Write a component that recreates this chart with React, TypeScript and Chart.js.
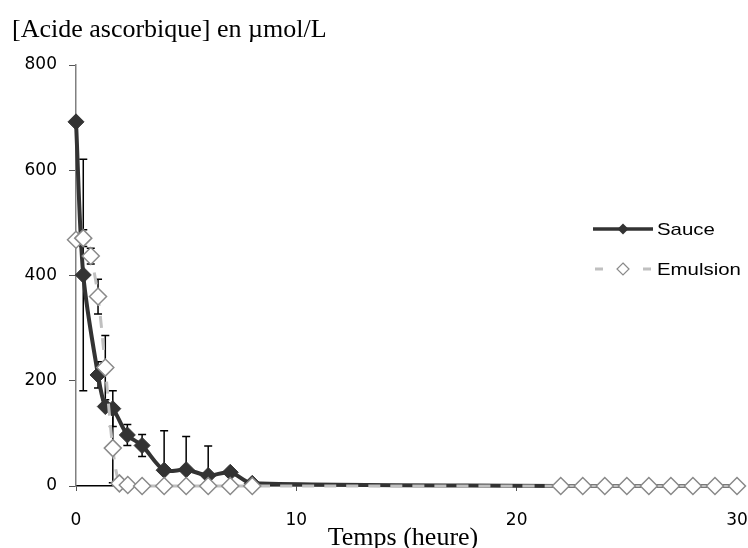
import React, { useEffect, useRef } from "react";
import { Chart, registerables } from "chart.js";

Chart.register(...registerables);

// ---- Data ----
const sauceTime = [0, 0.33, 1, 1.33, 1.67, 2.33, 3, 4, 5, 6, 7, 8, 22, 23, 24, 25, 26, 27, 28, 29, 30];
const sauceValue = [692, 401, 211, 151, 147, 97, 77, 30, 31, 20, 26, 5, 0, 0, 0, 0, 0, 0, 0, 0, 0];
const sauceError = [0, 220, 25, 0, 34, 20, 21, 75, 63, 56, 0, 0, 0, 0, 0, 0, 0, 0, 0, 0, 0];

const emulsionTime = [0, 0.33, 0.67, 1, 1.33, 1.67, 1.97, 2.35, 3, 4, 5, 6, 7, 8, 22, 23, 24, 25, 26, 27, 28, 29, 30];
const emulsionValue = [468, 471, 437, 360, 225, 72, 5, 2, 0, 0, 0, 0, 0, 0, 0, 0, 0, 0, 0, 0, 0, 0, 0];
const emulsionError = [0, 16, 15, 33, 61, 66, 0, 0, 0, 0, 0, 0, 0, 0, 0, 0, 0, 0, 0, 0, 0, 0, 0];

const xTickValues = [0, 10, 20, 30];
const yTickValues = [0, 200, 400, 600, 800];

const seriesNames = ["Sauce", "Emulsion"];
const yTitle = "[Acide ascorbique] en µmol/L";
const xTitle = "Temps (heure)";

const SAUCE_COLOR = "#333333";
const EMULSION_LINE = "#c0c0c0";
const EMULSION_MARK = "#8a8a8a";

const errorBarPlugin = {
  id: "errorBars",
  beforeDatasetsDraw(chart: any) {
    const { ctx, chartArea, scales } = chart;
    const x = scales.x;
    const y = scales.y;
    ctx.save();
    ctx.beginPath();
    ctx.rect(chartArea.left - 10, chartArea.top - 10, chartArea.right - chartArea.left + 20, chartArea.bottom - chartArea.top + 10);
    ctx.clip();
    ctx.strokeStyle = "#000";
    ctx.lineWidth = 1.5;
    const sets = [
      { t: sauceTime, v: sauceValue, e: sauceError },
      { t: emulsionTime, v: emulsionValue, e: emulsionError },
    ];
    sets.forEach((s) => {
      s.t.forEach((t, i) => {
        const e = s.e[i];
        if (!e) return;
        const px = x.getPixelForValue(t);
        const top = y.getPixelForValue(s.v[i] + e);
        const bot = y.getPixelForValue(s.v[i] - e);
        ctx.beginPath();
        ctx.moveTo(px, top);
        ctx.lineTo(px, bot);
        ctx.moveTo(px - 4, top);
        ctx.lineTo(px + 4, top);
        ctx.moveTo(px - 4, bot);
        ctx.lineTo(px + 4, bot);
        ctx.stroke();
      });
    });
    ctx.restore();
  },
};

function stretchedText(ctx: CanvasRenderingContext2D, text: string, x: number, y: number, sx: number) {
  ctx.save();
  ctx.translate(x, y);
  ctx.scale(sx, 1);
  ctx.fillText(text, 0, 0);
  ctx.restore();
}

function diamond(ctx: CanvasRenderingContext2D, cx: number, cy: number, r: number) {
  ctx.beginPath();
  ctx.moveTo(cx, cy - r);
  ctx.lineTo(cx + r, cy);
  ctx.lineTo(cx, cy + r);
  ctx.lineTo(cx - r, cy);
  ctx.closePath();
}

const decorPlugin = {
  id: "decor",
  afterDraw(chart: any) {
    const ctx: CanvasRenderingContext2D = chart.ctx;
    ctx.save();
    ctx.fillStyle = "#000";
    ctx.textBaseline = "alphabetic";
    ctx.font = '26px "Liberation Serif", "Times New Roman", serif';
    ctx.textAlign = "left";
    ctx.fillText(yTitle, 12, 37);
    ctx.textAlign = "center";
    ctx.fillText(xTitle, 403, 545);

    // legend
    const lx0 = 593;
    const lx1 = 653;
    const y1 = 229;
    const y2 = 269;
    ctx.lineWidth = 3.5;
    ctx.strokeStyle = SAUCE_COLOR;
    ctx.beginPath();
    ctx.moveTo(lx0, y1);
    ctx.lineTo(lx1, y1);
    ctx.stroke();
    ctx.fillStyle = SAUCE_COLOR;
    diamond(ctx, 623, y1, 5.5);
    ctx.fill();

    ctx.strokeStyle = EMULSION_LINE;
    ctx.lineWidth = 3;
    ctx.beginPath();
    ctx.moveTo(595, y2);
    ctx.lineTo(603, y2);
    ctx.moveTo(643, y2);
    ctx.lineTo(651, y2);
    ctx.stroke();
    ctx.fillStyle = "#fff";
    ctx.strokeStyle = EMULSION_MARK;
    ctx.lineWidth = 1.2;
    diamond(ctx, 623, y2, 6);
    ctx.fill();
    ctx.stroke();

    ctx.fillStyle = "#000";
    ctx.font = '17px "Liberation Sans", Arial, sans-serif';
    ctx.textAlign = "left";
    ctx.textBaseline = "middle";
    stretchedText(ctx, seriesNames[0], 657, y1 + 1, 1.2);
    stretchedText(ctx, seriesNames[1], 657, y2 + 1, 1.2);
    ctx.restore();
  },
};

export default function App() {
  const ref = useRef<HTMLCanvasElement | null>(null);

  useEffect(() => {
    if (!ref.current) return;
    const chart = new Chart(ref.current, {
      type: "scatter",
      data: {
        datasets: [
          {
            label: seriesNames[0],
            data: sauceTime.map((t, i) => ({ x: t, y: sauceValue[i] })),
            showLine: true,
            borderColor: SAUCE_COLOR,
            backgroundColor: SAUCE_COLOR,
            borderWidth: 4,
            tension: 0.3,
            pointStyle: "rectRot",
            pointRadius: 8,
            pointBorderWidth: 1,
            pointBorderColor: SAUCE_COLOR,
            pointBackgroundColor: SAUCE_COLOR,
            clip: false,
            order: 1,
          } as any,
          {
            label: seriesNames[1],
            data: emulsionTime.map((t, i) => ({ x: t, y: emulsionValue[i] })),
            showLine: true,
            borderColor: EMULSION_LINE,
            backgroundColor: "#fff",
            borderWidth: 3,
            borderDash: [12, 10],
            tension: 0.3,
            pointStyle: "rectRot",
            pointRadius: 8.5,
            pointBorderWidth: 1.5,
            pointBorderColor: EMULSION_MARK,
            pointBackgroundColor: "#fff",
            clip: false,
            order: 0,
          } as any,
        ],
      },
      options: {
        animation: false,
        responsive: false,
        devicePixelRatio: 1,
        events: [],
        layout: { padding: { top: 65, right: 11, left: 0, bottom: 0 } },
        plugins: {
          legend: { display: false },
          tooltip: { enabled: false },
          title: { display: false },
        },
        scales: {
          x: {
            type: "linear",
            min: 0,
            max: 30,
            afterBuildTicks: (scale: any) => {
              scale.ticks = xTickValues.map((v) => ({ value: v }));
            },
            afterFit: (scale: any) => {
              scale.height = 62;
              scale.paddingLeft = 0;
              scale.paddingRight = 0;
            },
            ticks: {
              color: "#000",
              font: { family: '"DejaVu Sans", sans-serif', size: 17 },
              padding: 19,
              maxRotation: 0,
            },
            grid: {
              display: true,
              drawOnChartArea: false,
              drawTicks: true,
              tickLength: 5,
              color: "#555",
              lineWidth: 1,
            },
            border: { display: true, color: "#000", width: 1.5 },
          },
          y: {
            type: "linear",
            min: 0,
            max: 800,
            afterBuildTicks: (scale: any) => {
              scale.ticks = yTickValues.map((v) => ({ value: v }));
            },
            afterFit: (scale: any) => {
              scale.width = 76;
              scale.paddingTop = 0;
              scale.paddingBottom = 0;
            },
            ticks: {
              color: "#000",
              font: { family: '"DejaVu Sans", sans-serif', size: 17 },
              padding: 12,
            },
            grid: {
              display: true,
              drawOnChartArea: false,
              drawTicks: true,
              tickLength: 7,
              color: "#555",
              lineWidth: 1,
            },
            border: { display: true, color: "#808080", width: 1.5 },
          },
        },
      } as any,
      plugins: [errorBarPlugin, decorPlugin],
    });
    return () => chart.destroy();
  }, []);

  return (
    <div style={{ position: "fixed", left: 0, top: 0, width: 748, height: 548, background: "#fff" }}>
      <canvas ref={ref} width={748} height={548} style={{ width: 748, height: 548, display: "block" }} />
    </div>
  );
}
